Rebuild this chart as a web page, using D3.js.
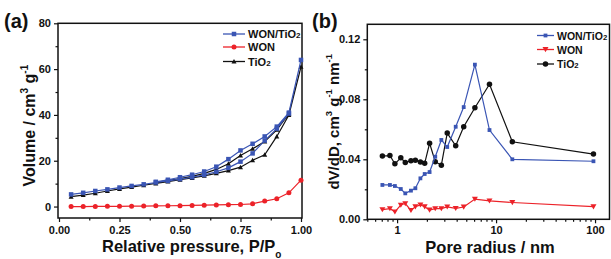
<!DOCTYPE html>
<html><head><meta charset="utf-8">
<script src="https://cdn.jsdelivr.net/npm/d3@7"></script>
<style>
html,body{margin:0;padding:0;background:#fff;}
svg text{font-family:Arial,"Liberation Sans",sans-serif;font-weight:bold;fill:#111;}
</style></head>
<body>
<svg id="c" width="611" height="259"></svg>
<script>
// ---- Panel (a): N2 isotherms ----
const pressureAds = [0.05,0.10,0.15,0.20,0.25,0.30,0.35,0.40,0.45,0.50,0.55,0.60,0.65,0.70,0.75,0.80,0.85,0.90,0.95,1.00];
const pressureDes = [0.95,0.90,0.85,0.80,0.75,0.70,0.65,0.60,0.55,0.50,0.45,0.40];
const wonTiO2Ads = [5.3,6.0,6.8,7.5,8.3,9.0,9.7,10.5,11.2,12.0,12.8,13.8,15.2,16.9,19.6,23.2,28.8,34.0,40.6,64.0];
const wonTiO2Des = [41.0,34.9,30.6,27.4,24.5,20.7,17.4,15.3,13.9,12.8,11.7,10.8];
const tio2Ads = [4.3,5.0,5.8,6.8,7.7,8.5,9.3,10.1,10.9,11.7,12.5,13.4,14.5,15.7,17.2,20.2,22.6,30.6,40.0,61.0];
const tio2Des = [40.5,33.5,28.4,25.2,22.3,18.7,16.2,14.5,13.2,12.2,11.3,10.6];
const wonAds = [0,0,0.05,0.1,0.1,0.15,0.2,0.3,0.35,0.4,0.5,0.6,0.7,0.8,0.9,1.2,2.4,3.4,6.0,11.5];
const aXTicks = [0,0.25,0.5,0.75,1.0];
const aYTicks = [0,20,40,60,80];

// ---- Panel (b): pore size distribution ----
const poreRadius = [0.71,0.846,0.95,1.09,1.21,1.38,1.53,1.72,1.90,2.13,2.43,2.80,3.21,3.91,4.71,6.11,8.58,14.6,96.4];
const psdWonTiO2 = [0.0229,0.0229,0.0222,0.0202,0.0173,0.0191,0.0207,0.0273,0.0302,0.0315,0.0417,0.0529,0.0482,0.0617,0.0748,0.1031,0.0595,0.0400,0.0387];
const psdWon = [0.0065,0.0071,0.0050,0.0095,0.0105,0.0060,0.0084,0.0096,0.0084,0.0062,0.0071,0.0071,0.0083,0.0073,0.0082,0.0135,0.0123,0.0112,0.0084];
const psdTiO2 = [0.0422,0.0425,0.0370,0.0410,0.0379,0.0391,0.0394,0.0382,0.0373,0.0507,0.0384,0.0361,0.0575,0.0490,0.0617,0.0744,0.0900,0.0517,0.0435];
const bXTicks = [1,10,100];
const bYTicks = [0,0.04,0.08,0.12];

const BLUE = "#3a55b4", RED = "#ec2229", BLACK = "#111";
const svg = d3.select("#c");

function frame(g, x0, x1, y0, y1){
  g.append("rect").attr("x",x0).attr("y",y0).attr("width",x1-x0).attr("height",y1-y0)
   .attr("fill","none").attr("stroke","#111").attr("stroke-width",1.5);
}
function marker(g, type, x, y, color, s){
  if(type==="square") g.append("rect").attr("x",x-s/2).attr("y",y-s/2).attr("width",s).attr("height",s).attr("fill",color);
  else if(type==="circle") g.append("circle").attr("cx",x).attr("cy",y).attr("r",s/2).attr("fill",color);
  else if(type==="tri") g.append("path").attr("d",`M${x-s/2},${y-s*0.4}L${x+s/2},${y-s*0.4}L${x},${y+s*0.45}Z`).attr("fill",color);
  else if(type==="triup") g.append("path").attr("d",`M${x-s/2},${y+s*0.4}L${x+s/2},${y+s*0.4}L${x},${y-s*0.5}Z`).attr("fill",color);
}
function series(g, xs, ys, sx, sy, color, type, s, lw){
  const line = d3.line().x((d,i)=>sx(xs[i])).y(d=>sy(d));
  g.append("path").datum(ys).attr("d",line).attr("fill","none").attr("stroke",color).attr("stroke-width",lw);
  ys.forEach((v,i)=>marker(g,type,sx(xs[i]),sy(v),color,s));
}
function legend(g, x0, x1, items, fs){
  items.forEach(it=>{
    g.append("line").attr("x1",x0).attr("x2",x1).attr("y1",it.y).attr("y2",it.y).attr("stroke",it.color).attr("stroke-width",1.3);
    marker(g,it.type,(x0+x1)/2,it.y,it.color,it.s);
    const t = g.append("text").attr("x",x1+3).attr("y",it.y+4).attr("font-size",fs);
    t.append("tspan").text(it.label);
    if(it.sub) t.append("tspan").attr("font-size",fs*0.73).text(it.sub);
  });
}

// ===== Panel (a) =====
{
  const L=58, R=302, T=23.3, B=218;
  const x = d3.scaleLinear().domain([0,1]).range([L+1,R-1]);
  const y = d3.scaleLinear().domain([-5,80]).range([B,T]);
  const g = svg.append("g");
  g.append("g").attr("transform",`translate(0,${B})`)
    .call(d3.axisBottom(x).tickValues(aXTicks).tickFormat(d3.format(".2f")).tickSize(4).tickPadding(4));
  g.append("g").attr("transform",`translate(0,${B})`)
    .call(d3.axisBottom(x).tickValues([0.125,0.375,0.625,0.875]).tickFormat("").tickSize(2.5));
  g.append("g").attr("transform",`translate(${L},0)`)
    .call(d3.axisLeft(y).tickValues(aYTicks).tickSize(4).tickPadding(3));
  g.append("g").attr("transform",`translate(${L},0)`)
    .call(d3.axisLeft(y).tickValues([10,30,50,70]).tickFormat("").tickSize(2.5));
  g.selectAll(".domain").remove();
  g.selectAll(".tick line").attr("stroke","#111").attr("stroke-width",1.2);
  g.selectAll(".tick text").attr("font-size",11).attr("font-weight","bold").attr("fill","#111")
    .attr("font-family","Arial, Liberation Sans, sans-serif");
  frame(g,L,R,T,B);
  const pAll = pressureAds.concat(pressureDes);
  series(g, pAll, tio2Ads.concat(tio2Des), x, y, BLACK, "triup", 5, 1.2);
  series(g, pAll, wonTiO2Ads.concat(wonTiO2Des), x, y, BLUE, "square", 4.5, 1.2);
  series(g, pressureAds, wonAds, x, y, RED, "circle", 5, 1.2);
  legend(g, 223, 245, [
    {label:"WON/TiO",sub:"2",color:BLUE,type:"square",s:4.5,y:34},
    {label:"WON",color:RED,type:"circle",s:5,y:47},
    {label:"TiO",sub:"2",color:BLACK,type:"triup",s:5,y:61.5}
  ], 11);
  svg.append("text").attr("x",4).attr("y",28).attr("font-size",20).text("(a)");
  const yl = svg.append("text").attr("transform",`translate(35,${(T+B)/2+5}) rotate(-90)`)
    .attr("text-anchor","middle").attr("font-size",16);
  yl.append("tspan").text("Volume / cm");
  yl.append("tspan").attr("font-size",10).attr("dy",-7).text("3");
  yl.append("tspan").attr("dy",7).text(" g");
  yl.append("tspan").attr("font-size",10).attr("dy",-7).text("-1");
  const xl = svg.append("text").attr("x",102).attr("y",252).attr("font-size",16.5);
  xl.append("tspan").text("Relative pressure, P/P");
  xl.append("tspan").attr("font-size",10).attr("dy",6).text("o");
}

// ===== Panel (b) =====
{
  const L=367.3, R=609.5, T=24.3, B=219.3;
  const x = d3.scaleLog().domain([0.5,140]).range([L,R]);
  const y = d3.scaleLinear().domain([0,0.13]).range([B,T]);
  const g = svg.append("g");
  const minors = [];
  [0.1,1,10,100].forEach(dec=>{for(let k=2;k<=9;k++){const v=dec*k; if(v>=0.5&&v<=140) minors.push(v);}});
  g.append("g").attr("transform",`translate(0,${B})`)
    .call(d3.axisBottom(x).tickValues(bXTicks).tickFormat(d3.format("d")).tickSize(4).tickPadding(3));
  g.append("g").attr("transform",`translate(0,${B})`)
    .call(d3.axisBottom(x).tickValues(minors).tickFormat("").tickSize(2.5));
  g.append("g").attr("transform",`translate(${L},0)`)
    .call(d3.axisLeft(y).tickValues(bYTicks).tickFormat(d3.format(".2f")).tickSize(4).tickPadding(3));
  g.append("g").attr("transform",`translate(${L},0)`)
    .call(d3.axisLeft(y).tickValues([0.02,0.06,0.10]).tickFormat("").tickSize(2.5));
  g.selectAll(".domain").remove();
  g.selectAll(".tick line").attr("stroke","#111").attr("stroke-width",1.2);
  g.selectAll(".tick text").attr("font-size",11).attr("font-weight","bold").attr("fill","#111")
    .attr("font-family","Arial, Liberation Sans, sans-serif");
  frame(g,L,R,T,B);
  series(g, poreRadius, psdTiO2, x, y, BLACK, "circle", 5.5, 1.2);
  series(g, poreRadius, psdWonTiO2, x, y, BLUE, "square", 3.8, 1.2);
  series(g, poreRadius, psdWon, x, y, RED, "tri", 6, 1.2);
  legend(g, 537, 554, [
    {label:"WON/TiO",sub:"2",color:BLUE,type:"square",s:3.8,y:35.5},
    {label:"WON",color:RED,type:"tri",s:6,y:49.5},
    {label:"TiO",sub:"2",color:BLACK,type:"circle",s:5.5,y:64}
  ], 10.5);
  svg.append("text").attr("x",312).attr("y",28).attr("font-size",20).text("(b)");
  const yl = svg.append("text").attr("transform",`translate(339,${(T+B)/2}) rotate(-90)`)
    .attr("text-anchor","middle").attr("font-size",15);
  yl.append("tspan").text("dV/dD, cm");
  yl.append("tspan").attr("font-size",9.5).attr("dy",-7).text("3");
  yl.append("tspan").attr("dy",7).text(" g");
  yl.append("tspan").attr("font-size",9.5).attr("dy",-7).text("-1");
  yl.append("tspan").attr("dy",7).text(" nm");
  yl.append("tspan").attr("font-size",9.5).attr("dy",-7).text("-1");
  svg.append("text").attr("x",490).attr("y",253).attr("text-anchor","middle").attr("font-size",16.5).text("Pore radius / nm");
}
</script>
</body></html>
